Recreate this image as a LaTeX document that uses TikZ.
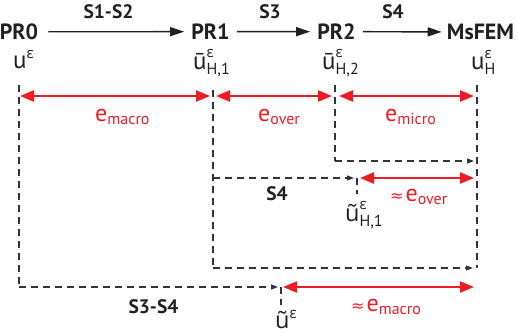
\documentclass[tikz,border=0pt]{standalone}
\usepackage{fontspec}
\setmainfont{PT Sans}
\newfontfamily\gkfont{Open Sans}
\newfontfamily\symfont{DejaVu Sans}
\usetikzlibrary{arrows.meta}
\definecolor{myred}{HTML}{ED1C24}
\definecolor{dgray}{HTML}{333333}
\definecolor{ink}{HTML}{231F20}
\newcommand\myeps{{\fontsize{15}{15}\selectfont\gkfont ε}}
\newcommand\usub[3]{#1\makebox[0pt][l]{\raisebox{#3}{\myeps}}\raisebox{-5pt}{\fontsize{16}{16}\selectfont #2}}
\newcommand\usup[1]{#1\raisebox{10pt}{\myeps}}
\newcommand\elab[2]{#1\raisebox{-3pt}{\fontsize{16}{16}\selectfont #2}}
\newcommand\approxsym{{\fontsize{16}{16}\selectfont\symfont ≈}\hspace{2pt}}
\newcommand\tu{{\fontsize{23.5}{23.5}\selectfont\gkfont ũ}}
\begin{document}
\begin{tikzpicture}[x=1pt,y=-1pt,
  boldlab/.style={font=\fontsize{22}{22}\selectfont\bfseries, text=ink, inner sep=0pt},
  slab/.style={font=\fontsize{19.5}{19.5}\selectfont\bfseries, text=ink, inner sep=0pt},
  var/.style={font=\fontsize{25}{25}\selectfont, text=ink, inner sep=0pt, anchor=base west},
  err/.style={font=\fontsize{24}{24}\selectfont, text=myred, inner sep=0pt, anchor=base west},
  prarrow/.style={draw=ink, line width=1.4pt, -{Triangle[length=14pt,width=9pt]}},
  redarr/.style={draw=myred, line width=2.4pt, {Triangle[length=14pt,width=11pt]}-{Triangle[length=14pt,width=11pt]}},
  guide/.style={draw=dgray, line width=1.1pt, dash pattern=on 7pt off 5pt},
  flow/.style={guide, -{Triangle[length=7pt,width=5pt]}},
]
\useasboundingbox (0,0) rectangle (518,334);
% top row
\node[boldlab, anchor=base] (pr0) at (19,39.5) {PR0};
\node[boldlab, anchor=base] (pr1) at (210.5,39.5) {PR1};
\node[boldlab, anchor=base] (pr2) at (336.5,39.5) {PR2};
\node[boldlab, anchor=base] (ms) at (480.5,39.5) {MsFEM};
\draw[prarrow, shorten <=10pt, shorten >=7pt] (pr0.east) -- (pr1.west);
\draw[prarrow, shorten <=7pt, shorten >=7pt] (pr1.east) -- (pr2.west);
\draw[prarrow, shorten <=7pt, shorten >=5pt] (pr2.east) -- (ms.west);
\node[slab, anchor=base] (s12) at (108.5,19) {S1-S2};
\node[slab, anchor=base] (s3) at (270,19) {S3};
\node[slab, anchor=base] (s4a) at (393,19) {S4};
% variables
\node[var] (u0) at (13,69) {\usup{u}};
\node[var] (u1) at (193,70) {\usub{ū}{H,1}{12pt}};
\node[var] (u2) at (322,70) {\usub{ū}{H,2}{12pt}};
\node[var] (uh) at (471,70) {\usub{u}{H}{11pt}};
% guide coordinates
\coordinate (a0) at (19,85);  \coordinate (b0) at (19,287);
\coordinate (a1) at (213,90); \coordinate (k1) at (213,178); \coordinate (b1) at (213,268);
\coordinate (a2) at (335,85); \coordinate (b2) at (335,161);
\coordinate (a3) at (477,85); \coordinate (b3) at (477,268);
\coordinate (c2) at (477,161);
\coordinate (t1) at (357,178); \coordinate (t1b) at (357,194);
\coordinate (t0) at (281,287); \coordinate (t0b) at (281,305);
\coordinate (r1) at (477,178); \coordinate (r0) at (477,287);
\coordinate (m0) at (19,96); \coordinate (m1) at (213,96);
\coordinate (m2) at (335,96); \coordinate (m3) at (477,96);
% dashed guides
\draw[guide] (a0) -- (b0);
\draw[guide] (a1) -- (b1);
\draw[guide] (a2) -- (b2);
\draw[guide] (a3) -- (b3);
\draw[flow, shorten >=3pt] (b2) -- (c2);
\draw[flow, shorten >=3pt] (k1) -- (t1);
\draw[flow, shorten >=4pt] (b1) -- (b3);
\draw[flow, shorten >=3pt] (b0) -- (t0);
\draw[guide] (t1) -- (t1b);
\draw[guide] (t0) -- (t0b);
% red error arrows
\draw[redarr, shorten <=1pt, shorten >=3pt] (m0) -- (m1);
\draw[redarr, shorten <=3pt, shorten >=3pt] (m1) -- (m2);
\draw[redarr, shorten <=4pt, shorten >=3pt] (m2) -- (m3);
\draw[redarr, shorten <=3pt, shorten >=3pt] (t1) -- (r1);
\draw[redarr, shorten <=2pt, shorten >=3pt] (t0) -- (r0);
% error labels
\node[err] (emac) at (95,121) {\elab{e}{macro}};
\node[err] (eov) at (258,121) {\elab{e}{over}};
\node[err] (emic) at (385,121) {\elab{e}{micro}};
\node[err] (aeov) at (390,201) {\approxsym\elab{e}{over}};
\node[err] (aemac) at (351,311) {\approxsym\elab{e}{macro}};
% step labels and approximations
\node[slab, anchor=base] (s4b) at (277,200) {S4};
\node[slab, anchor=base] (s34) at (153.5,313) {S3-S4};
\node[var] (ut1) at (345,221) {\usub{\tu}{H,1}{12pt}};
\node[var] (ut0) at (275,328) {\usup{\tu}};
\end{tikzpicture}
\end{document}
